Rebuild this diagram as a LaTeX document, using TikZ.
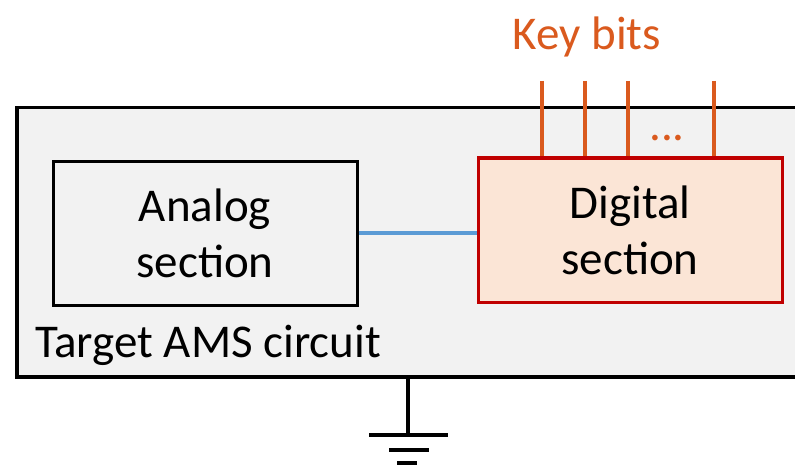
\documentclass[tikz,border=0pt]{standalone}
\usepackage{fontspec}
\setmainfont{Carlito}
\definecolor{panelgray}{HTML}{F2F2F2}
\definecolor{digifill}{HTML}{FBE5D6}
\definecolor{digired}{HTML}{C00000}
\definecolor{keyorange}{HTML}{DA5A1E}
\definecolor{linkblue}{HTML}{5B9BD5}
\begin{document}
\begin{tikzpicture}[x=1pt,y=-1pt,
  txt/.style={font=\fontsize{47}{56}\selectfont, align=center, inner sep=0pt},
  block/.style={draw=black, line width=3pt, inner sep=0pt},
  keyline/.style={draw=keyorange, line width=4pt},
  gnd/.style={draw=black, line width=4pt}]
  \useasboundingbox (0,0) rectangle (795,468);
  \begin{scope}
    \clip (0,0) rectangle (795,468);
    % outer circuit frame
    \node[draw=black, fill=panelgray, line width=3.5pt, minimum width=800pt,
      minimum height=269pt, inner sep=0pt, anchor=north west] (frame) at (15,106) {};
  \end{scope}
  \node[txt, anchor=base west] (frametxt) at (35,357) {Target AMS circuit};
  % analog block
  \node[block, minimum width=304pt, minimum height=144pt] (analog) at (205,233) {};
  \node[txt] (analogtxt) at (analog.center) {Analog\\section};
  % digital block
  \node[block, draw=digired, fill=digifill, minimum width=304pt, minimum height=144pt] (digital) at (630,230) {};
  \node[txt] (digitaltxt) at (digital.center) {Digital\\section};
  % link between blocks
  \draw[linkblue, line width=3.5pt] (analog.east) -- (analog.east -| digital.west);
  % key inputs
  \node[txt, text=keyorange, anchor=base] (keytxt) at (587,50) {Key bits};
  \foreach \kx [count=\i] in {542,585,628,714} {
    \coordinate (k\i) at (\kx,81);
    \draw[keyline] (k\i) -- (k\i |- digital.north);
  }
  \node[txt, text=keyorange, anchor=base] (dots) at (667,140) {...};
  % ground
  \coordinate (g0) at (408,375);
  \coordinate (g1) at (408,435);
  \coordinate (g2) at (409,450);
  \coordinate (g3) at (407,463);
  \draw[gnd] (g0) -- (g1);
  \draw[gnd] ([xshift=-39pt]g1) -- ([xshift=40pt]g1);
  \draw[gnd] ([xshift=-20pt]g2) -- ([xshift=20pt]g2);
  \draw[gnd] ([xshift=-10pt]g3) -- ([xshift=10pt]g3);
\end{tikzpicture}
\end{document}
